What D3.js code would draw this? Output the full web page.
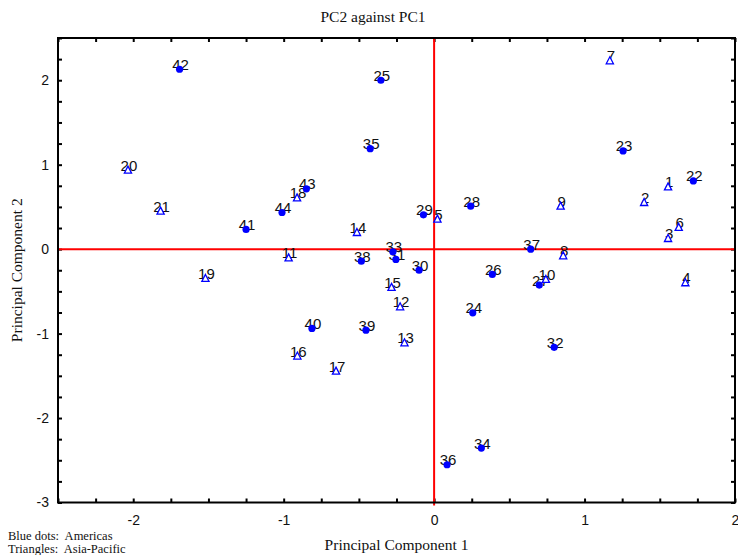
<!DOCTYPE html>
<html>
<head>
<meta charset="utf-8">
<script src="https://cdn.jsdelivr.net/npm/d3@7"></script>
<style>
  body { margin: 0; background: #fff; }
  svg { display: block; }
  .tick line { stroke: #000; stroke-width: 2; }
  .tick text { font-family: "Liberation Sans", Arial, sans-serif; font-size: 14px; fill: #111; }
  .serif { font-family: "Liberation Serif", "Times New Roman", serif; fill: #111; }
</style>
</head>
<body>
<div id="chart"></div>
<script>
// observation number, scores on the first two components, region
const ids = [1, 2, 3, 4, 5, 6, 7, 8, 9, 10, 11, 12, 13, 14, 15, 16, 17, 18, 19, 20, 21, 22,
             23, 24, 25, 26, 27, 28, 29, 30, 31, 32, 33, 34, 35, 36, 37, 38, 39, 40, 41, 42, 43, 44];
const pc1 = [1.555, 1.396, 1.555, 1.670, 0.022, 1.626, 1.168, 0.858, 0.841, 0.743, -0.967,
             -0.226, -0.197, -0.513, -0.283, -0.909, -0.652, -0.911, -1.520, -2.035, -1.818,
             1.723, 1.256, 0.257, -0.354, 0.387, 0.699, 0.243, -0.071, -0.100, -0.254, 0.798,
             -0.274, 0.314, -0.425, 0.086, 0.642, -0.484, -0.453, -0.812, -1.250, -1.692, -0.849, -1.011];
const pc2 = [0.737, 0.552, 0.126, -0.398, 0.355, 0.257, 2.230, -0.079, 0.509, -0.359, -0.103,
             -0.683, -1.109, 0.197, -0.453, -1.266, -1.444, 0.607, -0.347, 0.935, 0.450,
             0.808, 1.163, -0.754, 2.000, -0.300, -0.426, 0.509, 0.406, -0.249, -0.122, -1.163,
             -0.032, -2.355, 1.190, -2.553, 0.000, -0.142, -0.959, -0.939, 0.233, 2.130, 0.714, 0.434];
const regions = ids.map(id => id <= 21 ? "Asia-Pacific" : "Americas");

const xDomain = [-2.5, 2];
const yDomain = [-3, 2.5];
const xTickLabels = [-2, -1, 0, 1, 2];
const yTickLabels = [-3, -2, -1, 0, 1, 2];

const width = 738;
const height = 555;
const margin = { top: 38, right: 3, bottom: 52.5, left: 58 };

const points = ids.map((id, i) => ({ id: id, x: pc1[i], y: pc2[i], region: regions[i] }));

const svg = d3.select("#chart")
    .append("svg")
    .attr("width", width)
    .attr("height", height);

const x = d3.scaleLinear()
    .domain(xDomain)
    .range([margin.left, width - margin.right]);

const y = d3.scaleLinear()
    .domain(yDomain)
    .range([height - margin.bottom, margin.top]);

// minor ticks every 0.25, labels only on whole numbers
const xTicks = d3.range(xDomain[0], xDomain[1] + 0.001, 0.25);
const yTicks = d3.range(yDomain[0], yDomain[1] + 0.001, 0.25);
const fmtX = d => xTickLabels.includes(d) ? String(d) : "";
const fmtY = d => yTickLabels.includes(d) ? String(d) : "";

svg.append("g")
    .attr("transform", `translate(0,${y.range()[0]})`)
    .call(d3.axisBottom(x).tickValues(xTicks).tickFormat(fmtX).tickSizeInner(-4).tickSizeOuter(0).tickPadding(13))
    .call(g => g.select(".domain").remove());

svg.append("g")
    .attr("transform", `translate(0,${y.range()[1]})`)
    .call(d3.axisTop(x).tickValues(xTicks).tickFormat("").tickSizeInner(-4).tickSizeOuter(0))
    .call(g => g.select(".domain").remove());

svg.append("g")
    .attr("transform", `translate(${x.range()[0]},0)`)
    .call(d3.axisLeft(y).tickValues(yTicks).tickFormat(fmtY).tickSizeInner(-4).tickSizeOuter(0).tickPadding(9))
    .call(g => g.select(".domain").remove());

svg.append("g")
    .attr("transform", `translate(${x.range()[1]},0)`)
    .call(d3.axisRight(y).tickValues(yTicks).tickFormat("").tickSizeInner(-4).tickSizeOuter(0))
    .call(g => g.select(".domain").remove());

// zero lines
svg.append("line")
    .attr("x1", x(0)).attr("x2", x(0))
    .attr("y1", y.range()[1]).attr("y2", y.range()[0] + 3)
    .attr("stroke", "#ff0000")
    .attr("stroke-width", 2);

svg.append("line")
    .attr("x1", x.range()[0]).attr("x2", x.range()[1])
    .attr("y1", y(0)).attr("y2", y(0))
    .attr("stroke", "#ff0000")
    .attr("stroke-width", 2);

// frame
svg.append("rect")
    .attr("x", x.range()[0])
    .attr("y", y.range()[1])
    .attr("width", x.range()[1] - x.range()[0])
    .attr("height", y.range()[0] - y.range()[1])
    .attr("fill", "none")
    .attr("stroke", "#000")
    .attr("stroke-width", 2);

// point labels
svg.append("g")
    .selectAll("text")
    .data(points)
    .enter()
    .append("text")
    .attr("x", d => x(d.x) + 1)
    .attr("y", d => y(d.y) + 0.5)
    .attr("text-anchor", "middle")
    .style("font-family", "'Liberation Sans', Arial, sans-serif")
    .style("font-size", "15px")
    .style("fill", "#111")
    .text(d => d.id);

// markers
const triangle = "M0,-4L3.6,3L-3.6,3Z";
const marks = svg.append("g");

marks.selectAll("circle")
    .data(points.filter(d => d.region === "Americas"))
    .enter()
    .append("circle")
    .attr("cx", d => x(d.x))
    .attr("cy", d => y(d.y))
    .attr("r", 3.6)
    .attr("fill", "#0000ff");

marks.selectAll("path")
    .data(points.filter(d => d.region === "Asia-Pacific"))
    .enter()
    .append("path")
    .attr("d", triangle)
    .attr("transform", d => `translate(${x(d.x)},${y(d.y)})`)
    .attr("fill", "#fff")
    .attr("stroke", "#0000ff")
    .attr("stroke-width", 1.3);

// titles
svg.append("text")
    .attr("class", "serif")
    .attr("x", 373)
    .attr("y", 22)
    .attr("text-anchor", "middle")
    .style("font-size", "15.5px")
    .text("PC2 against PC1");

svg.append("text")
    .attr("class", "serif")
    .attr("x", (x.range()[0] + x.range()[1]) / 2)
    .attr("y", 550)
    .attr("text-anchor", "middle")
    .style("font-size", "15.5px")
    .text("Principal Component 1");

svg.append("text")
    .attr("class", "serif")
    .attr("transform", `translate(22,${(y.range()[0] + y.range()[1]) / 2}) rotate(-90)`)
    .attr("text-anchor", "middle")
    .style("font-size", "15.5px")
    .text("Principal Component 2");

svg.append("text")
    .attr("class", "serif")
    .attr("x", 8)
    .attr("y", 540)
    .style("font-size", "12.5px")
    .style("white-space", "pre")
    .text("Blue dots:  Americas");

svg.append("text")
    .attr("class", "serif")
    .attr("x", 8)
    .attr("y", 553)
    .style("font-size", "12.5px")
    .style("white-space", "pre")
    .text("Triangles:  Asia-Pacific");
</script>
</body>
</html>
